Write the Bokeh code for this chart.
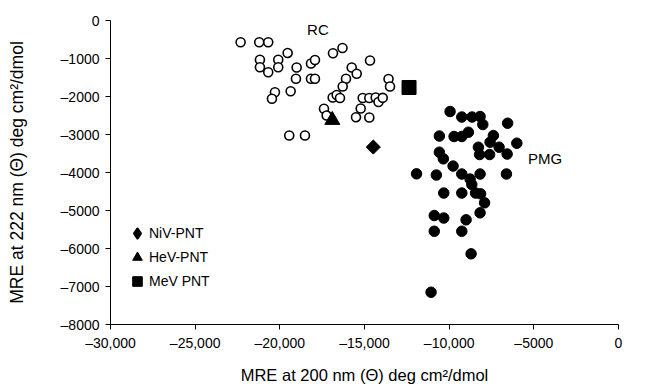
import math
from bokeh.plotting import figure
from bokeh.models import Range1d, Legend, LegendItem, FixedTicker, Label
from bokeh.embed import file_html
from bokeh.resources import INLINE

# ---- data ----
rc_x = [-22316, -21217, -20685, -19538, -21176, -21176, -20685, -20094, -20094, -19007,
        -19048, -18161, -17925, -18161, -17925, -20289, -20466, -19361, -16861, -16300,
        -14675, -15756, -15461, -16093, -16288, -16879, -16643, -16448, -15106, -14716,
        -14338, -14172, -13924, -13581, -13493, -15224, -15502, -14716, -17393, -17234,
        -19444, -18516]
rc_y = [-571, -571, -571, -855, -1034, -1229, -1361, -1034, -1229, -1237,
        -1534, -1132, -1040, -1534, -1534, -1887, -2061, -1861, -861, -724,
        -1053, -1237, -1403, -1534, -1737, -2027, -1961, -2040, -2040, -2040,
        -2027, -2145, -2035, -1540, -1737, -2316, -2545, -2553, -2324, -2500,
        -3027, -3027]

pmg_x = [-9947, -9255, -8646, -8174, -8014, -6548, -10579, -9710, -9255, -8865,
         -7388, -7583, -8274, -7051, -6005, -8203, -7612, -6578, -10579, -10343,
         -9769, -11926, -10756, -9255, -8765, -8174, -6619, -8664, -10319, -9255,
         -8439, -8144, -7908, -8174, -10880, -10319, -9001, -10880, -9255, -8705,
         -11069]
pmg_y = [-2395, -2540, -2540, -2527, -2737, -2703, -3040, -3053, -3053, -2940,
         -3027, -3203, -3335, -3335, -3229, -3527, -3527, -3514, -3466, -3640,
         -3830, -4035, -4066, -4040, -4172, -4040, -4040, -4316, -4540, -4540,
         -4540, -4561, -4798, -5061, -5132, -5198, -5245, -5546, -5546, -6140,
         -7151]

niv_x, niv_y = [-14480], [-3330]
hev_x, hev_y = [-16900], [-2620]
mev_x, mev_y = [-12370], [-1763]

x_ticks = [-30000, -25000, -20000, -15000, -10000, -5000, 0]
x_tick_labels = ["\u201330,000", "\u201325,000", "\u201320,000", "\u201315,000", "\u201310,000", "\u20135000", "0"]
y_ticks = [0, -1000, -2000, -3000, -4000, -5000, -6000, -7000, -8000]
y_tick_labels = ["0", "\u20131000", "\u20132000", "\u20133000", "\u20134000", "\u20135000", "\u20136000", "\u20137000", "\u20138000"]

FONT = "Liberation Sans"

p = figure(width=668, height=391, output_backend="svg", toolbar_location=None,
           x_range=Range1d(-30000, 0), y_range=Range1d(-8000, 0),
           min_border_left=110, min_border_right=50, min_border_top=20, min_border_bottom=67)
p.outline_line_color = None
p.grid.visible = False

for ax in (p.xaxis[0], p.yaxis[0]):
    ax.axis_line_color = "black"
    ax.major_tick_line_color = "black"
    ax.minor_tick_line_color = None
    ax.major_tick_in = 0
    ax.major_tick_out = 5
    ax.major_label_text_font = FONT
    ax.major_label_text_font_size = "14px"
    ax.major_label_text_color = "black"
    ax.axis_label_text_font = FONT
    ax.axis_label_text_font_style = "normal"
    ax.axis_label_text_color = "black"

p.xaxis.ticker = FixedTicker(ticks=x_ticks)
p.yaxis.ticker = FixedTicker(ticks=y_ticks)
p.xaxis.major_label_overrides = dict(zip(x_ticks, x_tick_labels))
p.yaxis.major_label_overrides = dict(zip(y_ticks, y_tick_labels))
p.xaxis.axis_label = "MRE at 200 nm (\u0398) deg cm\u00b2/dmol"
p.yaxis.axis_label = "MRE at 222 nm (\u0398) deg cm\u00b2/dmol"
p.xaxis.axis_label_text_font_size = "16.5px"
p.yaxis.axis_label_text_font_size = "17.5px"
p.xaxis.major_label_standoff = 5
p.yaxis.major_label_standoff = 6
p.xaxis.axis_label_standoff = 12
p.yaxis.axis_label_standoff = 31

p.scatter(rc_x, rc_y, marker="circle", size=9, fill_color="white", line_color="black", line_width=1.6)
p.scatter(pmg_x, pmg_y, marker="circle", size=10.5, fill_color="black", line_color="black")
p.scatter(niv_x, niv_y, marker="square", angle=math.pi / 4, size=10, fill_color="black", line_color="black")
r_hev = p.scatter(hev_x, hev_y, marker="triangle", size=15, fill_color="black", line_color="black")
r_mev = p.scatter(mev_x, mev_y, marker="square", size=14, fill_color="black", line_color="black")
# legend-only glyph for NiV (nothing drawn in the plot area)
r_niv_leg = p.scatter([float("nan")], [float("nan")], marker="diamond", size=17,
                      fill_color="black", line_color="black", line_width=2.5, line_join="round")

p.add_layout(Label(x=-17750, y=-240, text="RC", text_font=FONT, text_font_size="15px",
                   text_color="black", text_align="center", text_baseline="middle"))
p.add_layout(Label(x=-5350, y=-3640, text="PMG", text_font=FONT, text_font_size="15px",
                   text_color="black", text_align="left", text_baseline="middle"))

legend = Legend(items=[LegendItem(label="NiV-PNT", renderers=[r_niv_leg]),
                       LegendItem(label="HeV-PNT", renderers=[r_hev]),
                       LegendItem(label="MeV PNT", renderers=[r_mev])],
                location=(15, 31), orientation="vertical",
                glyph_width=24, glyph_height=24, label_height=24, spacing=-1,
                label_standoff=-2, padding=0, margin=0,
                border_line_color=None, background_fill_alpha=0,
                label_text_font=FONT, label_text_font_size="14px", label_text_color="black")
p.add_layout(legend)

open("out.html", "w").write(file_html(p, INLINE))
